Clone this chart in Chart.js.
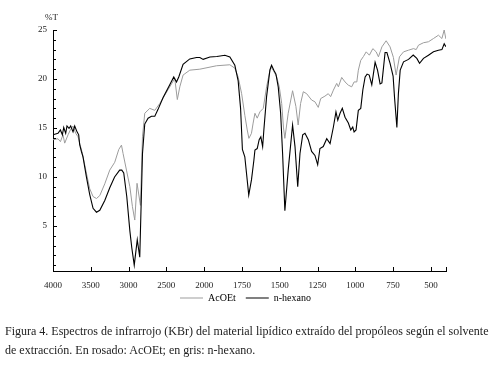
<!DOCTYPE html>
<html>
<head>
<meta charset="utf-8">
<script src="https://cdn.jsdelivr.net/npm/chart.js@4.4.1/dist/chart.umd.min.js"></script>
<style>
  html, body { margin: 0; padding: 0; background: #fff; }
  #wrap { position: relative; width: 491px; height: 367px; overflow: hidden; }
  #box { position: absolute; left: 0; top: 0; width: 491px; height: 329px; }
  #caption {
    position: absolute; left: 5px; top: 322px;
    font-family: "Liberation Serif", serif; font-size: 12px; line-height: 19px;
    color: #222; white-space: nowrap;
  }
</style>
</head>
<body>
<div id="wrap">
  <div id="box"><canvas id="irChart"></canvas></div>
  <div id="caption">Figura 4. Espectros de infrarrojo (KBr) del material lipídico extraído del propóleos según el solvente<br>de extracción. En rosado: AcOEt; en gris: n-hexano.</div>
</div>
<script>
// tick positions (cm-1) and %T labels
const xTickValues = [4000, 3500, 3000, 2500, 2000, 1750, 1500, 1250, 1000, 750, 500];
const yTickValues = [5, 10, 15, 20, 25];

// AcOEt spectrum (grey) - wavenumber / %T
const acoetWn = [4000, 3934, 3902, 3868, 3845, 3801, 3770, 3735, 3699, 3669, 3647, 3611, 3558, 3514, 3470, 3425,
  3381, 3315, 3249, 3183, 3130, 3094, 3073, 3028, 2983, 2949, 2918, 2888, 2843, 2816, 2786, 2720, 2653, 2587,
  2521, 2432, 2389, 2355, 2322, 2279, 2190, 2057, 1918, 1830, 1797, 1775, 1752, 1731, 1715, 1704, 1687, 1676,
  1664, 1649, 1631, 1609, 1587, 1560, 1543, 1520, 1503, 1487, 1475, 1466, 1444, 1415, 1393, 1378, 1362, 1344,
  1322, 1289, 1267, 1245, 1229, 1201, 1179, 1163, 1145, 1123, 1112, 1090, 1068, 1046, 1024, 1008, 990, 980,
  964, 946, 928, 907, 884, 862, 847, 824, 796, 770, 748, 730, 708, 681, 648, 615, 597, 582, 549, 516, 483,
  450, 427, 412, 401];
const acoetT = [13.8, 13.9, 13.6, 14.3, 13.45, 14.3, 14.8, 15.2, 14.45, 14.1, 13.45, 12.4, 10.4, 8.8, 8.0, 7.8,
  8.1, 9.3, 10.7, 11.5, 12.8, 13.25, 12.4, 10.7, 9.0, 6.97, 5.6, 9.35, 7.1, 14.1, 16.5, 17.0, 16.8, 17.5,
  18.35, 19.5, 20.05, 17.9, 19.2, 20.4, 20.9, 21.0, 21.35, 21.45, 21.1, 20.2, 18.5, 16.3, 14.8, 13.94, 14.45, 15.5,
  16.5, 16.0, 16.65, 17.0, 19.2, 21.24, 20.9, 20.2, 19.2, 17.5, 15.0, 13.94, 16.5, 18.8, 17.2, 15.3, 17.5, 18.7,
  18.5, 17.85, 17.67, 17.1, 18.0, 18.25, 18.5, 18.2, 18.86, 19.55, 19.2, 20.16, 19.7, 19.37, 19.2, 19.7, 19.7, 20.9,
  21.9, 22.3, 22.77, 22.43, 23.1, 22.77, 22.26, 23.28, 23.9, 23.28, 22.2, 20.4, 22.26, 22.77, 22.94, 23.1, 23.0, 23.45, 23.7, 23.8, 24.13,
  24.47, 24.13, 25.0, 24.1];

// n-hexano spectrum (black)
const hexanoWn = [4000, 3934, 3902, 3876, 3858, 3832, 3815, 3788, 3766, 3735, 3713, 3682, 3660, 3647, 3624, 3603,
  3558, 3514, 3470, 3425, 3381, 3315, 3249, 3185, 3118, 3090, 3064, 3024, 2983, 2958, 2925, 2885, 2852, 2816,
  2786, 2742, 2697, 2653, 2610, 2543, 2455, 2402, 2366, 2336, 2279, 2190, 2101, 2057, 2013, 1962, 1916, 1863,
  1830, 1797, 1775, 1759, 1747, 1731, 1720, 1705, 1687, 1671, 1664, 1649, 1636, 1625, 1613, 1605, 1587, 1565,
  1554, 1539, 1525, 1510, 1494, 1481, 1466, 1444, 1415, 1399, 1381, 1366, 1348, 1333, 1311, 1289, 1267, 1249,
  1234, 1212, 1189, 1167, 1145, 1128, 1116, 1101, 1086, 1068, 1046, 1030, 1017, 1008, 995, 980, 964, 950, 935,
  922, 908, 891, 869, 853, 836, 824, 803, 791, 770, 750, 740, 725, 715, 703, 681, 648, 617, 593, 575, 549, 516,
  483, 450, 427, 412, 401];
const hexanoT = [14.3, 14.45, 14.8, 14.3, 15.05, 14.45, 15.2, 14.95, 15.2, 14.6, 15.2, 14.6, 14.3, 13.3, 12.6, 12.05,
  10.0, 8.2, 6.8, 6.4, 6.6, 7.6, 8.9, 10.0, 10.7, 10.7, 10.4, 8.0, 4.5, 2.8, 1.0, 3.6, 1.8, 12.4,
  15.4, 16.0, 16.2, 16.2, 16.9, 18.1, 19.4, 20.2, 19.7, 20.2, 21.5, 22.05, 22.2, 22.2, 22.0, 22.25, 22.3, 22.42,
  22.25, 21.4, 19.8, 17.0, 12.8, 12.06, 10.4, 8.16, 9.7, 11.7, 12.75, 12.9, 13.8, 14.1, 13.1, 14.8, 18.2, 20.9,
  21.4, 20.9, 20.5, 19.2, 16.5, 12.4, 6.55, 10.7, 15.3, 13.1, 9.0, 12.4, 14.3, 14.45, 13.8, 12.6, 12.2, 11.25,
  12.9, 13.1, 13.9, 13.4, 15.1, 16.65, 15.8, 16.5, 17.0, 16.1, 15.5, 14.8, 15.1, 14.6, 14.8, 16.8, 17.0, 18.9, 20.2,
  20.5, 20.4, 19.4, 21.7, 20.9, 19.5, 19.6, 22.7, 22.7, 21.6, 20.3, 18.0, 15.06, 18.5, 20.9, 21.75, 22.0, 22.45, 22.1, 21.6, 22.1, 22.43,
  22.77, 22.94, 23.0, 23.6, 23.3];

// the x axis changes scale at 2000: 500 cm-1 per division above, 250 below
function toPos(w) {
  return w >= 2000 ? (4000 - w) / 500 : 4 + (2000 - w) / 250;
}

const serif = '"Liberation Serif", "Times New Roman", serif';

// ticks drawn inwards, plus the %T label over the y axis
const innerTicks = {
  id: 'innerTicks',
  afterLayout(chart) {
    // centre the legend on the whole page and pull it up under the axis labels
    const lg = chart.legend;
    const h = lg.bottom - lg.top;
    lg.left = 0;
    lg.right = chart.width;
    lg.top = 298 - h / 2;
    lg.bottom = lg.top + h;
  },
  afterDraw(chart) {
    const { ctx, chartArea, scales: { x, y } } = chart;
    ctx.save();
    ctx.strokeStyle = '#000';
    ctx.lineWidth = 1;
    ctx.beginPath();
    const xs = xTickValues.map(w => x.getPixelForValue(toPos(w)));
    xs.push(x.getPixelForValue(x.max));
    xs.forEach(px => {
      px = Math.round(px) + 0.5;
      ctx.moveTo(px, chartArea.bottom);
      ctx.lineTo(px, chartArea.bottom - 4);
    });
    for (let v = 1; v <= 25; v++) {
      const py = Math.round(y.getPixelForValue(v)) + 0.5;
      ctx.moveTo(chartArea.left, py);
      ctx.lineTo(chartArea.left + (v % 5 === 0 ? 4 : 3), py);
    }
    ctx.stroke();
    ctx.fillStyle = '#222';
    ctx.font = '9px ' + serif;
    ctx.textBaseline = 'alphabetic';
    ctx.fillText('%T', chartArea.left - 8, chartArea.top - 10);
    ctx.restore();
  }
};

const ctx = document.getElementById('irChart').getContext('2d');

const irChart = new Chart(ctx, {
  type: 'line',
  data: {
    datasets: [
      {
        label: 'AcOEt',
        data: acoetWn.map((w, i) => ({ x: toPos(w), y: acoetT[i] })),
        borderColor: '#9c9c9c',
        borderWidth: 1,
        order: 2
      },
      {
        label: 'n-hexano',
        data: hexanoWn.map((w, i) => ({ x: toPos(w), y: hexanoT[i] })),
        borderColor: '#000',
        borderWidth: 1.1,
        order: 1
      }
    ]
  },
  options: {
    responsive: true,
    maintainAspectRatio: false,
    animation: false,
    layout: { padding: { top: 30, right: 45, left: 0, bottom: 4 } },
    elements: { point: { radius: 0 }, line: { tension: 0 } },
    plugins: {
      tooltip: { enabled: false },
      legend: {
        position: 'bottom',
        labels: {
          boxWidth: 23,
          boxHeight: 1,
          padding: 10,
          color: '#222',
          font: { family: serif, size: 10 },
          generateLabels(chart) {
            return chart.data.datasets.map((ds, i) => ({
              text: ds.label,
              fillStyle: ds.borderColor,
              strokeStyle: ds.borderColor,
              lineWidth: 0,
              datasetIndex: i
            }));
          }
        }
      }
    },
    scales: {
      x: {
        type: 'linear',
        min: 0,
        max: toPos(400),
        afterBuildTicks(scale) {
          scale.ticks = xTickValues.map(w => ({ value: toPos(w) }));
        },
        afterFit(scale) { scale.height = 24; },
        ticks: {
          autoSkip: false,
          maxRotation: 0,
          padding: 9,
          color: '#222',
          font: { family: serif, size: 9 },
          callback: (v, i) => String(xTickValues[i])
        },
        grid: { drawOnChartArea: false, drawTicks: false },
        border: { display: true, color: '#000', width: 1 }
      },
      y: {
        min: 0.4,
        max: 25,
        afterBuildTicks(scale) {
          scale.ticks = yTickValues.map(v => ({ value: v }));
        },
        afterFit(scale) { scale.width = 53; },
        ticks: {
          padding: 6,
          color: '#222',
          font: { family: serif, size: 9 }
        },
        grid: { drawOnChartArea: false, drawTicks: false },
        border: { display: true, color: '#000', width: 1 }
      }
    }
  },
  plugins: [innerTicks]
});
</script>
</body>
</html>
